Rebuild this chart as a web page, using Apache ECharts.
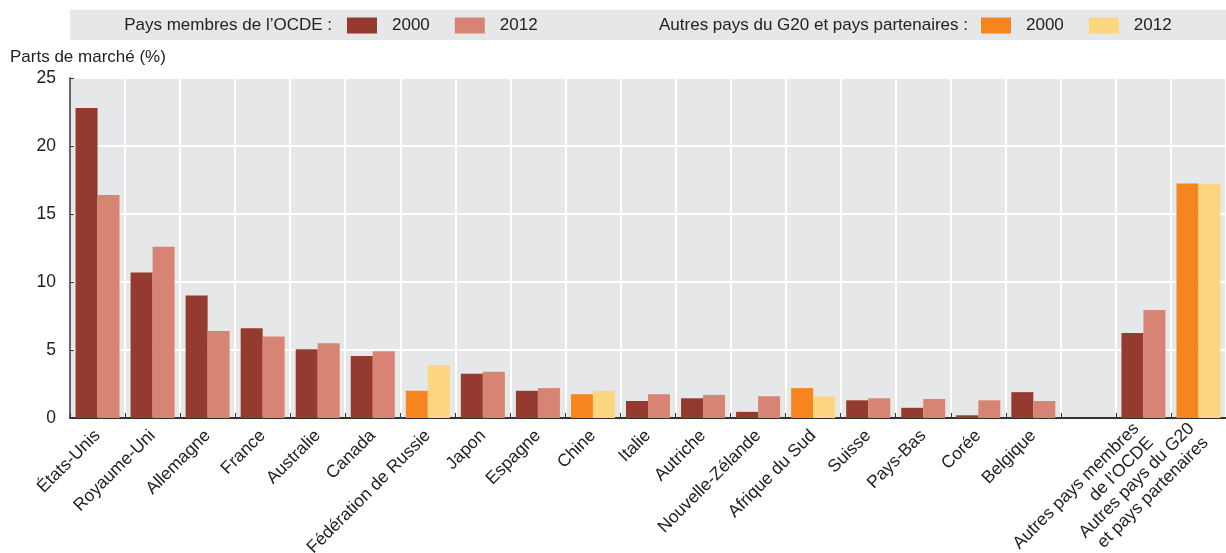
<!DOCTYPE html>
<html><head><meta charset="utf-8">
<script src="https://cdn.jsdelivr.net/npm/echarts@6/dist/echarts.min.js"></script>
<style>html,body{margin:0;padding:0;background:#fff}#c{width:1226px;height:553px}</style>
</head><body><div id="c"></div>
<script>
const categories = ['États-Unis','Royaume-Uni','Allemagne','France','Australie','Canada','Fédération de Russie','Japon','Espagne','Chine','Italie','Autriche','Nouvelle-Zélande','Afrique du Sud','Suisse','Pays-Bas','Corée','Belgique','','Autres pays membres\nde l’OCDE','Autres pays du G20\net pays partenaires'];
const ocde2000 = [22.8,10.7,9.0,6.6,5.05,4.55,null,3.25,2.0,null,1.25,1.45,0.45,null,1.3,0.75,0.2,1.9,null,6.25,null];
const ocde2012 = [16.4,12.6,6.4,6.0,5.5,4.9,null,3.4,2.2,null,1.75,1.7,1.6,null,1.45,1.4,1.3,1.25,null,7.95,null];
const g20_2000 = [null,null,null,null,null,null,2.0,null,null,1.75,null,null,null,2.2,null,null,null,null,null,null,17.25];
const g20_2012 = [null,null,null,null,null,null,3.9,null,null,2.0,null,null,null,1.6,null,null,null,null,null,null,17.2];
const yTicks = [0,5,10,15,20,25];

const FONT = '"Liberation Sans",Arial,sans-serif';
const C = {o00:'#953a2f', o12:'#d88474', g00:'#f6851f', g12:'#fdd680', bg:'#e6e7e9', txt:'#222'};
const AX = 17.5;

const chart = echarts.init(document.getElementById('c'), null, {renderer:'canvas'});
const bar = (name, data, stack, color) => ({
  name, type:'bar', data, stack, barWidth:22, barGap:'0%', itemStyle:{color}, emphasis:{disabled:true}, silent:true
});
const legendBase = {top:17, padding:0, icon:'rect', itemWidth:30, itemHeight:16, itemGap:25, selectedMode:false,
  formatter:n=>n.slice(-4), textStyle:{fontSize:17, color:C.txt, fontFamily:FONT, padding:[0,0,0,10]}};
chart.setOption({
  animation:false,
  textStyle:{fontFamily:FONT},
  grid:{left:70, right:0, top:78, bottom:135, show:true, backgroundColor:C.bg, borderWidth:0, containLabel:false, outerBoundsMode:'none'},
  graphic:[
    {type:'rect', left:70, top:10, shape:{width:1156, height:30}, style:{fill:C.bg}, z:-10},
    {type:'text', x:332, y:25, style:{text:'Pays membres de l’OCDE :', font:'17px '+FONT, fill:C.txt, align:'right', verticalAlign:'middle'}},
    {type:'text', x:968, y:25, style:{text:'Autres pays du G20 et pays partenaires :', font:'17px '+FONT, fill:C.txt, align:'right', verticalAlign:'middle'}},
    {type:'text', x:10, y:57, style:{text:'Parts de marché (%)', font:'17px '+FONT, fill:C.txt, align:'left', verticalAlign:'middle'}}
  ],
  legend:[
    Object.assign({}, legendBase, {data:['OCDE 2000','OCDE 2012'], left:347}),
    Object.assign({}, legendBase, {data:['G20 2000','G20 2012'], left:981})
  ],
  xAxis:{
    type:'category', data:categories,
    axisLine:{lineStyle:{color:'#333', width:2}},
    axisTick:{show:true, inside:true, length:5, alignWithLabel:false, lineStyle:{color:'#333'}},
    splitLine:{show:true, interval:0, lineStyle:{color:'#fff', width:2}},
    axisLabel:{interval:0, rotate:45, margin:15, padding:[28,0,0,0], fontSize:AX, lineHeight:20, color:C.txt, fontFamily:FONT}
  },
  yAxis:{
    type:'value', min:yTicks[0], max:yTicks[yTicks.length-1], interval:5,
    axisLine:{show:true, lineStyle:{color:'#333', width:1.5}},
    axisTick:{show:true, inside:true, length:4, lineStyle:{color:'#333'}},
    splitLine:{show:true, lineStyle:{color:'#fff', width:2}},
    axisLabel:{fontSize:AX, color:C.txt, margin:14, fontFamily:FONT}
  },
  series:[
    bar('OCDE 2000', ocde2000, 's2000', C.o00),
    bar('OCDE 2012', ocde2012, 's2012', C.o12),
    bar('G20 2000', g20_2000, 's2000', C.g00),
    bar('G20 2012', g20_2012, 's2012', C.g12)
  ]
});
</script></body></html>
